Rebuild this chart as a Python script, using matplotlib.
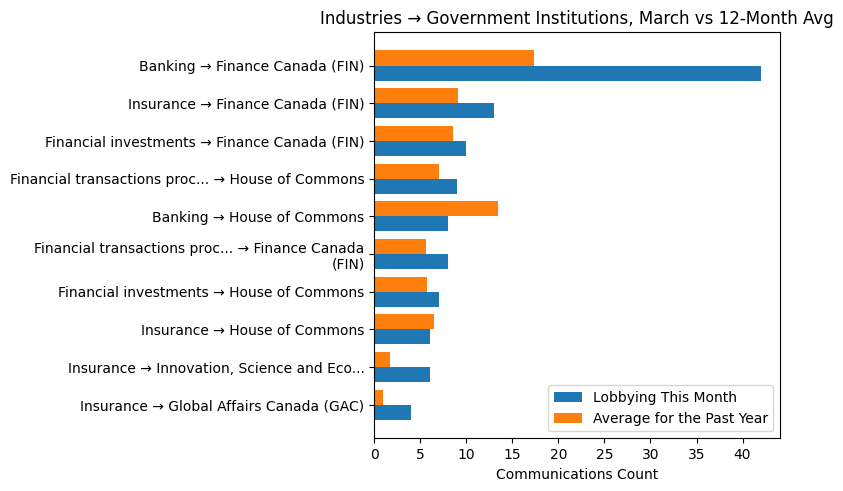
import numpy as np
import matplotlib
matplotlib.use("Agg")
import matplotlib.pyplot as plt

# Données
labels = [
    "Banking → Finance Canada (FIN)",
    "Insurance → Finance Canada (FIN)",
    "Financial investments → Finance Canada (FIN)",
    "Financial transactions proc... → House of Commons",
    "Banking → House of Commons",
    "Financial transactions proc... → Finance Canada\n(FIN)",
    "Financial investments → House of Commons",
    "Insurance → House of Commons",
    "Insurance → Innovation, Science and Eco...",
    "Insurance → Global Affairs Canada (GAC)",
]
this_month = [42, 13, 10, 9, 8, 8, 7, 6, 6, 4]
past_year_avg = [17.3, 9.1, 8.6, 7.0, 13.4, 5.6, 5.7, 6.5, 1.7, 1.0]

y = np.arange(len(labels))
h = 0.4

fig, ax = plt.subplots(figsize=(8.43, 4.91), dpi=100)
ax.barh(y + h / 2, this_month, h, label="Lobbying This Month", color="#1f77b4")
ax.barh(y - h / 2, past_year_avg, h, label="Average for the Past Year", color="#ff7f0e")
ax.set_yticks(y)
ax.set_yticklabels(labels)
ax.invert_yaxis()
ax.set_xlabel("Communications Count")
ax.set_title("Industries → Government Institutions, March vs 12-Month Avg")
ax.legend(loc="lower right")
fig.subplots_adjust(left=0.444, right=0.9256, top=0.9348, bottom=0.1073)
plt.savefig("out.png")
